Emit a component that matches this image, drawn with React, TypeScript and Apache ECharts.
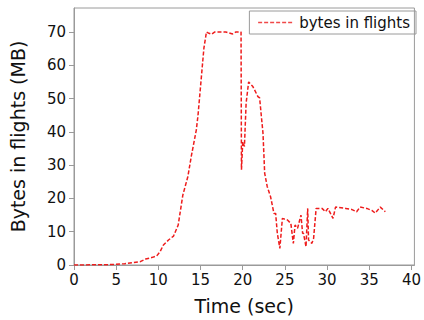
import React, { useEffect, useRef } from "react";
import * as echarts from "echarts";

const timeSec: number[] = [
  0, 2, 4, 5, 6, 7, 7.85, 8.5, 9.3, 9.8, 10.2, 10.6, 11.2, 11.8, 12.35, 12.9, 13.5, 13.9, 14.5, 14.7,
  15.4, 15.7, 16.0, 16.3, 16.7, 17.3, 18.0, 18.8, 19.2, 19.8, 19.85, 20.0, 20.2, 20.4, 20.7, 21.2,
  21.8, 22.0, 22.4, 22.6, 22.9, 23.3, 23.7, 23.9, 24.1, 24.4, 24.7, 25.3, 25.7, 26.0, 26.2, 26.5,
  26.9, 27.1, 27.2, 27.5, 27.7, 27.8, 28.2, 28.4, 28.7, 29.4, 29.8, 30.1, 30.7, 31.0, 32.2, 32.9,
  33.5, 33.9, 34.7, 35.3, 35.7, 36.3, 36.9,
];
const bytesMB: number[] = [
  0, 0.05, 0.1, 0.2, 0.4, 0.7, 1.0, 1.8, 2.3, 2.7, 4.0, 6.0, 7.5, 8.7, 12, 21, 26.6, 32.6, 40.6, 45,
  65.2, 70, 69.6, 69.3, 70, 70, 70, 69.4, 70, 70, 28.6, 37, 35.6, 48.6, 55, 53.6,
  50.6, 50.2, 39.6, 27.6, 23.6, 20.5, 15.5, 15.5, 9.5, 5.0, 14, 13.5, 12.5, 6.5, 12, 11,
  15, 9.5, 9.5, 5.5, 17, 7.5, 6.5, 8, 17, 17, 16, 17, 14, 17.4, 17, 16.7,
  16, 17.4, 17, 16.4, 15.6, 17.4, 16,
];
const xTicks: number[] = [0, 5, 10, 15, 20, 25, 30, 35, 40];
const yTicks: number[] = [0, 10, 20, 30, 40, 50, 60, 70];
const seriesName = "bytes in flights";

export default function App() {
  const ref = useRef<HTMLDivElement>(null);
  useEffect(() => {
    if (!ref.current) return;
    const chart = echarts.init(ref.current, undefined, { renderer: "svg" });
    const font = "DejaVu Sans, sans-serif";
    const gray = "#9a9a9a";
    chart.setOption({
      animation: false,
      backgroundColor: "#ffffff",
      grid: {
        left: 73,
        right: 9,
        top: 8,
        bottom: 54,
        show: true,
        borderColor: gray,
        borderWidth: 1,
      },
      legend: {
        right: 8,
        top: 11,
        data: [seriesName],
        itemWidth: 36,
        itemHeight: 12,
        padding: [4, 6, 4, 8],
        itemGap: 10,
        borderColor: gray,
        borderWidth: 1,
        borderRadius: 0,
        itemStyle: { opacity: 0 },
        lineStyle: { color: "#f04848", width: 1.5, type: [4, 2] },
        textStyle: { fontFamily: font, fontSize: 15, color: "#111" },
      },
      xAxis: {
        type: "value",
        min: 0,
        max: 40.35,
        name: "Time (sec)",
        nameLocation: "middle",
        nameGap: 31,
        nameTextStyle: { fontFamily: font, fontSize: 19, color: "#111" },
        splitLine: { show: false },
        axisLine: { show: true, lineStyle: { color: gray } },
        axisTick: { show: true, inside: false, length: 5, lineStyle: { color: gray }, customValues: xTicks },
        axisLabel: { fontFamily: font, fontSize: 15, color: "#111", margin: 7, customValues: xTicks },
      },
      yAxis: {
        type: "value",
        min: 0,
        max: 77.2,
        name: "Bytes in flights (MB)",
        nameLocation: "middle",
        nameGap: 47,
        nameTextStyle: { fontFamily: font, fontSize: 19, color: "#111" },
        splitLine: { show: false },
        axisLine: { show: true, lineStyle: { color: gray } },
        axisTick: { show: true, inside: false, length: 5, lineStyle: { color: gray }, customValues: yTicks },
        axisLabel: { fontFamily: font, fontSize: 15, color: "#111", margin: 8, customValues: yTicks },
      },
      series: [
        {
          name: seriesName,
          type: "line",
          data: timeSec.map((t, i) => [t, bytesMB[i]]),
          symbol: "none",
          lineStyle: { color: "#ee1c1c", width: 1.5, type: [4, 2] },
          itemStyle: { color: "#ee1c1c" },
        },
      ],
    });
    return () => chart.dispose();
  }, []);
  return (
    <div
      ref={ref}
      style={{ position: "fixed", left: 0, top: 0, width: 424, height: 320 }}
    />
  );
}
